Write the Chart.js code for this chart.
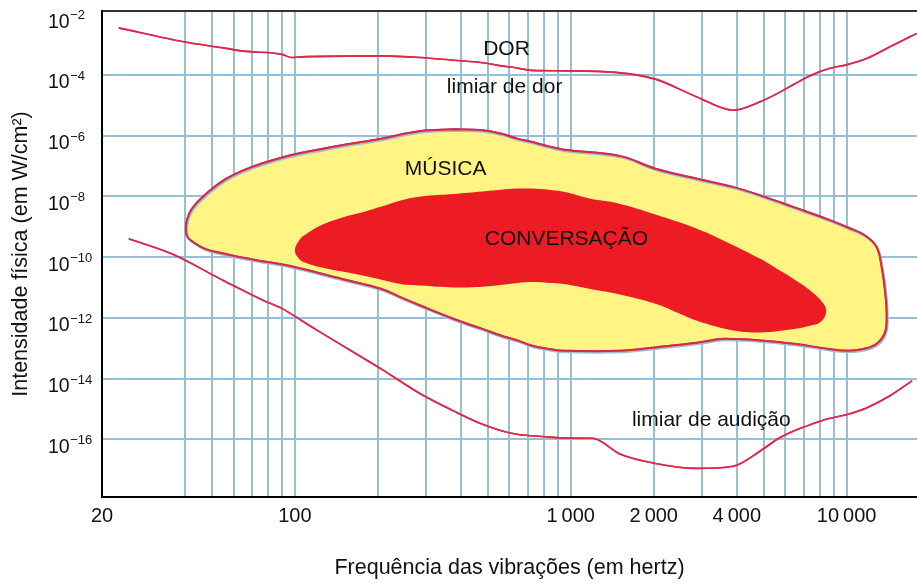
<!DOCTYPE html>
<html lang="pt">
<head>
<meta charset="utf-8">
<title>Intensidade física x frequência</title>
<script src="https://cdn.jsdelivr.net/npm/chart.js@4.4.1/dist/chart.umd.min.js"></script>
<style>
  html, body { margin: 0; padding: 0; background: #fff; }
  #wrap { position: relative; width: 917px; height: 583px; }
</style>
</head>
<body>
<div id="wrap"><canvas id="chart"></canvas></div>
<script>
// Limiar de dor (Hz, W/cm²)
const painFreq = [23, 40, 55, 65, 90, 97, 105, 206, 286, 376, 479, 552, 631, 721, 949, 1452, 2027, 2853, 3884, 4864, 5605, 6457, 7441, 8645, 10128, 11866, 14370, 18000];
const painIntensity = [3.5e-3, 1.2e-3, 7.7e-4, 6.0e-4, 4.7e-4, 3.7e-4, 3.9e-4, 4.2e-4, 3.7e-4, 3.0e-4, 2.5e-4, 2.0e-4, 1.7e-4, 1.4e-4, 1.35e-4, 1.2e-4, 7.2e-5, 1.9e-5, 6.8e-6, 1.3e-5, 2.4e-5, 4.9e-5, 9.7e-5, 1.6e-4, 2.2e-4, 3.5e-4, 8.4e-4, 2.3e-3];

// Limiar de audição
const hearingFreq = [25, 35.6, 55, 77, 90, 106, 124, 206, 286, 376, 479, 552, 631, 721, 824, 949, 1199, 1514, 2027, 2853, 3884, 4864, 5605, 6457, 7441, 8645, 10128, 11866, 14370, 17270];
const hearingIntensity = [4.0e-10, 1.3e-10, 1.7e-11, 3.7e-12, 2.0e-12, 8.0e-13, 3.3e-13, 2.05e-14, 3.1e-15, 8.6e-16, 3.1e-16, 2.0e-16, 1.5e-16, 1.3e-16, 1.2e-16, 1.1e-16, 1.08e-16, 3.2e-17, 1.6e-17, 1.1e-17, 1.3e-17, 4.1e-17, 1.0e-16, 1.9e-16, 3.1e-16, 4.8e-16, 6.7e-16, 1.1e-15, 2.7e-15, 8.4e-15];

// Região da música: contorno fechado (borda de cima, ponta direita, borda de baixo, ponta esquerda)
const musicFreq = [377, 478, 557, 640, 725, 833, 944, 1514, 2027, 2870, 3894, 4864, 6424, 8596, 10155, 11668, 12864, 13411, 13785, 13980, 13785, 12864, 11508, 10155, 8596, 6424, 4864, 3894, 3485, 2870, 2027, 1514, 944, 833, 725, 640, 557, 478, 377, 286, 242, 206, 148, 106, 90, 76, 65, 55, 47, 42, 40.6, 40.3, 41.4, 43.8, 47, 55, 65, 76, 90, 106, 148, 206, 286, 377];
const musicIntensity = [1.6e-6, 1.5e-6, 1.16e-6, 7.9e-7, 6.1e-7, 4.4e-7, 3.4e-7, 2.1e-7, 8.1e-8, 3.8e-8, 2.0e-8, 1.07e-8, 4.4e-9, 1.7e-9, 9.2e-10, 5.1e-10, 2.1e-10, 4.6e-11, 7.9e-12, 1.3e-12, 3.3e-13, 1.4e-13, 9.4e-14, 8.2e-14, 9.4e-14, 1.4e-13, 1.8e-13, 2.0e-13, 2.0e-13, 1.5e-13, 1.06e-13, 8.2e-14, 8.2e-14, 9.4e-14, 1.2e-13, 1.8e-13, 2.6e-13, 4.3e-13, 9.1e-13, 2.5e-12, 4.7e-12, 8.9e-12, 1.9e-11, 4.1e-11, 5.7e-11, 7.3e-11, 9.4e-11, 1.3e-10, 1.9e-10, 3.5e-10, 5.1e-10, 1.1e-9, 2.7e-9, 5.7e-9, 1.07e-8, 3.3e-8, 7.1e-8, 1.2e-7, 1.9e-7, 2.7e-7, 4.8e-7, 7.9e-7, 1.4e-6, 1.6e-6];

// Região da conversação: contorno fechado
const speechFreq = [640, 725, 833, 944, 1179, 1452, 2027, 2870, 3894, 4864, 5592, 6424, 7380, 8243, 8432, 8021, 7380, 6424, 4864, 3894, 2870, 2428, 2027, 1452, 1179, 944, 833, 725, 640, 557, 478, 377, 286, 242, 206, 164, 124, 108, 103.6, 100, 103.6, 108, 124, 151, 176, 206, 242, 286, 377, 478, 557, 640];
const speechIntensity = [1.8e-8, 1.8e-8, 1.65e-8, 1.4e-8, 8.3e-9, 6.1e-9, 2.5e-9, 8.5e-10, 2.4e-10, 8.7e-11, 4.1e-11, 1.9e-11, 7.9e-12, 2.9e-12, 1.5e-12, 7.1e-13, 5.5e-13, 4.3e-13, 3.3e-13, 3.8e-13, 8.0e-13, 1.5e-12, 2.9e-12, 6.3e-12, 8.9e-12, 1.3e-11, 1.4e-11, 1.5e-11, 1.4e-11, 1.2e-11, 1.06e-11, 1.0e-11, 1.15e-11, 1.3e-11, 1.8e-11, 2.8e-11, 4.6e-11, 6.7e-11, 8.7e-11, 1.64e-10, 3.5e-10, 5.1e-10, 1.1e-9, 2.1e-9, 3.0e-9, 4.6e-9, 7.3e-9, 9.9e-9, 1.2e-8, 1.45e-8, 1.65e-8, 1.8e-8];

// Eixos
const xGridValues = [40, 50, 60, 70, 80, 90, 100, 200, 300, 400, 500, 600, 700, 800, 900, 1000, 2000, 3000, 4000, 5000, 6000, 7000, 8000, 9000, 10000];
const xTickValues = [20, 100, 1000, 2000, 4000, 10000];
const xTickLabels = ['20', '100', '1\u2009000', '2\u2009000', '4\u2009000', '10\u2009000'];
const yTickExponents = [-16, -14, -12, -10, -8, -6, -4, -2];

// Textos dentro do gráfico (posição da linha de base, em Hz e W/cm²)
const noteTexts = ['DOR', 'limiar de dor', 'MÚSICA', 'CONVERSAÇÃO', 'limiar de audição'];
const noteFreq = [585, 576, 352, 965, 3234];
const noteIntensity = [4.4e-4, 2.6e-5, 4.9e-8, 2.4e-10, 2.8e-16];

const FONT = '"Liberation Sans", Arial, Helvetica, sans-serif';
const GRID = '#97bed2';
const LINE_RED = '#dc2a4e';
const TEXT = '#111';

Chart.defaults.font.family = FONT;

function toPoints(xs, ys) {
  return xs.map((x, i) => ({ x, y: ys[i] }));
}

// Draws outlines again above the grid, then the 10^n labels and the notes.
const overlayPlugin = {
  id: 'overlay',
  afterDraw(chart) {
    const { ctx, chartArea, scales } = chart;
    const area = chartArea;

    ctx.save();
    ctx.beginPath();
    ctx.rect(area.left, area.top, area.right - area.left, area.bottom - area.top);
    ctx.clip();
    chart.data.datasets.forEach((ds, i) => {
      if (!ds.onTop) return;
      ctx.save();
      if (ds.shadow) {
        ctx.shadowColor = ds.shadow;
        ctx.shadowOffsetX = 1;
        ctx.shadowOffsetY = 1.5;
      }
      chart.getDatasetMeta(i).dataset.draw(ctx, area);
      ctx.restore();
    });
    ctx.restore();

    // y tick labels: "10" with a raised exponent
    ctx.save();
    ctx.fillStyle = TEXT;
    ctx.textAlign = 'left';
    ctx.textBaseline = 'alphabetic';
    const lx = area.left - 54;
    yTickExponents.forEach(e => {
      const py = scales.y.getPixelForValue(Math.pow(10, e));
      ctx.font = `19.5px ${FONT}`;
      ctx.fillText('10', lx, py + 13.5);
      const w = ctx.measureText('10').width;
      ctx.font = `13px ${FONT}`;
      ctx.fillText('\u2212' + Math.abs(e), lx + w + 0.5, py + 5);
    });

    // notes
    ctx.font = `21px ${FONT}`;
    ctx.textAlign = 'center';
    noteTexts.forEach((t, i) => {
      ctx.fillText(t, scales.x.getPixelForValue(noteFreq[i]), scales.y.getPixelForValue(noteIntensity[i]));
    });
    ctx.restore();
  }
};

new Chart(document.getElementById('chart'), {
  type: 'scatter',
  data: {
    datasets: [
      {
        label: 'limiar de dor',
        data: toPoints(painFreq, painIntensity),
        showLine: true,
        borderColor: LINE_RED,
        borderWidth: 1.6,
        pointRadius: 0,
        cubicInterpolationMode: 'monotone',
        fill: false,
        onTop: true
      },
      {
        label: 'limiar de audição',
        data: toPoints(hearingFreq, hearingIntensity),
        showLine: true,
        borderColor: LINE_RED,
        borderWidth: 1.6,
        pointRadius: 0,
        cubicInterpolationMode: 'monotone',
        fill: false,
        onTop: true
      },
      {
        label: 'conversação',
        data: toPoints(speechFreq, speechIntensity),
        showLine: true,
        borderColor: 'rgba(0,0,0,0)',
        borderWidth: 0,
        backgroundColor: '#ed1c24',
        pointRadius: 0,
        tension: 0.4,
        fill: 'shape'
      },
      {
        label: 'música',
        data: toPoints(musicFreq, musicIntensity),
        showLine: true,
        borderColor: '#d42a4c',
        borderWidth: 2,
        backgroundColor: '#fff484',
        pointRadius: 0,
        tension: 0.4,
        fill: 'shape',
        onTop: true,
        shadow: '#9ebfd0'
      }
    ]
  },
  options: {
    responsive: true,
    maintainAspectRatio: false,
    animation: false,
    devicePixelRatio: 1,
    events: [],
    layout: { padding: { top: 11, left: 0, right: 0, bottom: 0 } },
    plugins: {
      legend: { display: false },
      tooltip: { enabled: false }
    },
    scales: {
      x: {
        type: 'logarithmic',
        position: 'bottom',
        min: 20,
        max: 18000,
        z: 1,
        afterBuildTicks: s => { s.ticks = [20].concat(xGridValues).map(v => ({ value: v })); },
        afterFit: s => { s.height = 86; },
        grid: {
          color: c => (c.tick && c.tick.value === 20) ? 'rgba(0,0,0,0)' : GRID,
          lineWidth: 2,
          drawTicks: false
        },
        border: { display: true, color: '#000', width: 2 },
        ticks: {
          autoSkip: false,
          maxRotation: 0,
          minRotation: 0,
          padding: 7,
          color: TEXT,
          font: { size: 20 },
          callback: v => {
            const k = xTickValues.indexOf(v);
            return k < 0 ? '' : xTickLabels[k];
          }
        },
        title: {
          display: true,
          text: 'Frequência das vibrações (em hertz)',
          color: TEXT,
          font: { size: 21.5 },
          padding: { top: 0, bottom: 2 }
        }
      },
      xTop: {
        type: 'logarithmic',
        position: 'top',
        min: 20,
        max: 18000,
        afterFit: s => { s.height = 0; },
        grid: { display: false, drawTicks: false },
        border: { display: true, color: '#333', width: 2 },
        ticks: { display: false }
      },
      y: {
        type: 'logarithmic',
        min: Math.pow(10, -17.9),
        max: Math.pow(10, -1.9),
        z: 1,
        afterBuildTicks: s => { s.ticks = yTickExponents.map(e => ({ value: Math.pow(10, e) })); },
        afterFit: s => { s.width = 102; },
        grid: {
          color: c => (c.tick && Math.round(Math.log10(c.tick.value)) === -2) ? 'rgba(0,0,0,0)' : GRID,
          lineWidth: 2,
          drawTicks: false
        },
        border: { display: true, color: '#000', width: 2 },
        ticks: { display: false },
        title: {
          display: true,
          text: 'Intensidade física (em W/cm²)',
          color: TEXT,
          font: { size: 21.5 },
          padding: { top: 8, bottom: 0 }
        }
      }
    }
  },
  plugins: [overlayPlugin]
});
</script>
</body>
</html>
